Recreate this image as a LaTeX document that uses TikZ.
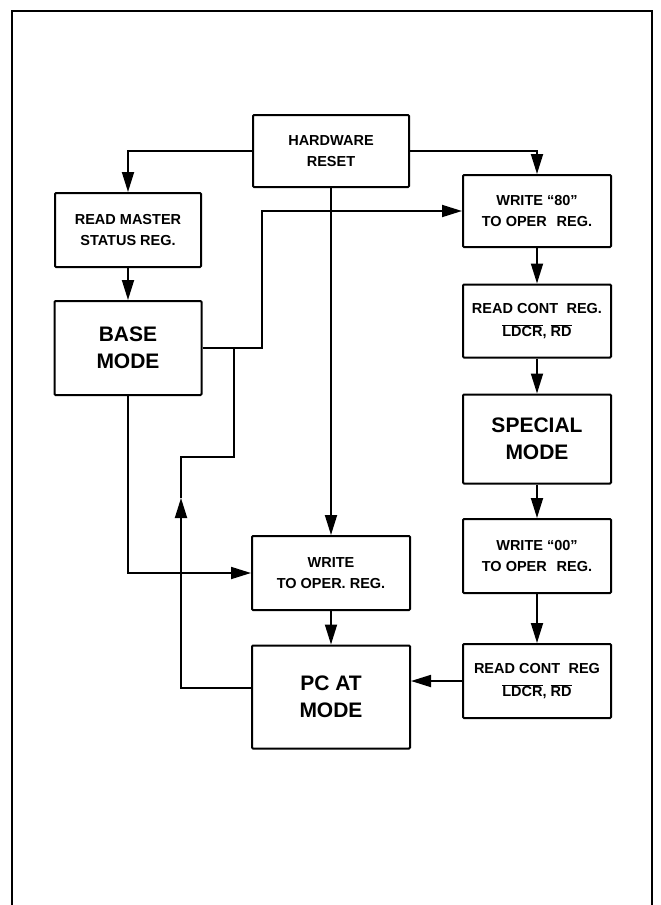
\documentclass[tikz,border=0pt]{standalone}
\usepackage{fontspec}
\setmainfont{Liberation Sans}
\usetikzlibrary{arrows.meta}

\begin{document}
\begin{tikzpicture}[x=1pt,y=-1pt,
    box/.style={draw, line width=2pt, rounded corners=1pt, align=center, inner sep=0pt},
    smallbox/.style={box, font=\bfseries\fontsize{14.5}{21}\selectfont},
    bigbox/.style={box, font=\bfseries\fontsize{21}{27}\selectfont},
    wire/.style={line width=1.8pt},
    arr/.style={wire, -{Triangle[length=20pt,width=12pt]}}]
    \useasboundingbox (0,0) rectangle (661,905);

    % frame, open at the bottom
    \draw[line width=1.6pt] (12,905) -- (12,11) -- (652,11) -- (652,905);

    % boxes
    \node[smallbox, minimum width=156pt, minimum height=72pt] (reset) at (331,151) {HARDWARE\\RESET};
    \node[smallbox, minimum width=146pt, minimum height=74pt] (master) at (128,230) {READ MASTER\\STATUS REG.};
    \node[bigbox, minimum width=147pt, minimum height=94pt] (base) at (128,348) {BASE\\MODE};
    \node[smallbox, minimum width=148pt, minimum height=72pt] (write80) at (537,211) {WRITE ``80''\\TO OPER\hspace{0.4em} REG.};
    \node[smallbox, minimum width=148pt, minimum height=73pt] (readA) at (537,321) {READ CONT\hspace{0.3em} REG.\\[2pt]$\overline{\hbox{LDCR}}$, $\overline{\hbox{RD}}$};
    \node[bigbox, minimum width=148pt, minimum height=89pt] (special) at (537,439) {SPECIAL\\MODE};
    \node[smallbox, minimum width=148pt, minimum height=74pt] (write00) at (537,556) {WRITE ``00''\\TO OPER\hspace{0.4em} REG.};
    \node[smallbox, minimum width=148pt, minimum height=74pt] (readB) at (537,681) {READ CONT\hspace{0.3em} REG\\[2pt]$\overline{\hbox{LDCR}}$, $\overline{\hbox{RD}}$};
    \node[smallbox, minimum width=158pt, minimum height=74pt] (write) at (331,573) {WRITE\\TO OPER. REG.};
    \node[bigbox, minimum width=158pt, minimum height=103pt] (pcat) at (331,697) {PC AT\\MODE};

    % bends of the return lines
    \coordinate (kA) at (262,211);
    \coordinate (kB) at (234,348);
    \coordinate (kC) at (181,457);
    \coordinate (kD) at (181,498);
    \coordinate (kE) at (181,688);

    % reset fans out
    \draw[arr] (reset.west) -| (master.north);
    \draw[arr] (reset.east) -| (write80.north);
    \draw[arr] (reset.south) -- (write.north);

    % left column
    \draw[arr] (master) -- (base);
    \draw[arr] (base.south) |- (write.west);
    \draw[arr] (base.east) -| (kA) -- (write80.west);

    % right column
    \draw[arr] (write80) -- (readA);
    \draw[arr] (readA) -- (special);
    \draw[arr] (special) -- (write00);
    \draw[arr] (write00) -- (readB);
    \draw[arr] (readB.west) -- (readB.west -| pcat.east);

    % middle
    \draw[arr] (write) -- (pcat);

    % PC AT back to WRITE 80
    \draw[arr] (kE -| pcat.west) -- (kE) -- (kD);
    \draw[wire] (kD) -- (kC) -| (kB);
\end{tikzpicture}
\end{document}
